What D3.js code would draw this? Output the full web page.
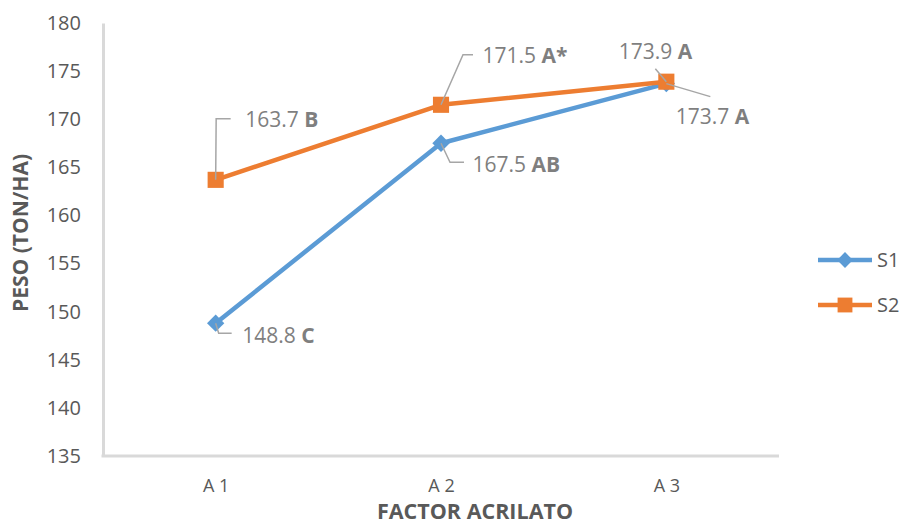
<!DOCTYPE html>
<html>
<head>
<meta charset="utf-8">
<script src="https://cdn.jsdelivr.net/npm/d3@7/dist/d3.min.js"></script>
<style>
  html, body { margin: 0; padding: 0; background: #fff; }
  svg { display: block; font-family: "Open Sans", sans-serif; }
</style>
</head>
<body>
<svg id="chart" width="900" height="526"></svg>
<script>
// ---- data ----
const categories = ["A 1", "A 2", "A 3"];
const seriesNames = ["S1", "S2"];
const s1Values = [148.8, 167.5, 173.7];
const s2Values = [163.7, 171.5, 173.9];
const s1Letters = ["C", "AB", "A"];
const s2Letters = ["B", "A*", "A"];
const yTicks = [135, 140, 145, 150, 155, 160, 165, 170, 175, 180];

// ---- layout (positions/styles) ----
const W = 900, H = 526;
const plot = { left: 103, right: 779, top: 23, bottom: 456 };
const colors = { S1: "#5b9bd5", S2: "#ed7d31" };
// label offsets relative to the point: text start (dx, dy centre), leader polyline
const labelLayout = {
  S1: [
    { dx: 26.5, dy: 12, leader: [[0, 0], [3, 10], [16, 10]] },
    { dx: 31.5, dy: 21, leader: [[0, 0], [9, 19], [23, 19]] },
    { dx: 9.5, dy: 33.5, leader: [[0, 0], [44, 13]] }
  ],
  S2: [
    { dx: 29.5, dy: -60, leader: [[0, 0], [0.5, -61], [15, -61]] },
    { dx: 41.5, dy: -49, leader: [[0, 0], [22, -50], [32, -50]] },
    { dx: -47.5, dy: -30, leader: [[0, 0], [-11, -13]] }
  ]
};

const svg = d3.select("#chart");

const x = d3.scalePoint().domain(categories).range([plot.left, plot.right]).padding(0.5);
const y = d3.scaleLinear().domain([135, 180]).range([plot.bottom, plot.top]);

// axes
const yAxis = svg.append("g")
  .attr("transform", `translate(${plot.left},0)`)
  .call(d3.axisLeft(y).tickValues(yTicks).tickSize(0).tickSizeOuter(0).tickPadding(22));
yAxis.select(".domain").attr("stroke", "#d9d9d9").attr("stroke-width", 3);
yAxis.selectAll("text").attr("fill", "#595959").style("font-size", "20px").style("font-family", "'Open Sans', sans-serif");

const xAxis = svg.append("g")
  .attr("transform", `translate(0,${plot.bottom})`)
  .call(d3.axisBottom(x).tickSize(0).tickSizeOuter(0).tickPadding(23));
xAxis.select(".domain").attr("stroke", "#d9d9d9").attr("stroke-width", 3)
  .attr("d", `M${plot.left - 1.5},0H${plot.right}`);
xAxis.selectAll("text").attr("fill", "#595959").style("font-size", "18px").style("font-family", "'Open Sans', sans-serif");

// axis titles
svg.append("text")
  .attr("transform", `translate(28,233) rotate(-90)`)
  .attr("text-anchor", "middle")
  .attr("fill", "#595959")
  .style("font-size", "21px").style("font-weight", "bold")
  .text("PESO (TON/HA)");
svg.append("text")
  .attr("x", 475).attr("y", 519)
  .attr("text-anchor", "middle")
  .attr("fill", "#595959")
  .style("font-size", "21.5px").style("font-weight", "bold")
  .text("FACTOR ACRILATO");

// series
const series = [
  { name: "S1", values: s1Values, letters: s1Letters, shape: d3.symbolSquare, rot: 45, size: 150, lsize: 125 },
  { name: "S2", values: s2Values, letters: s2Letters, shape: d3.symbolSquare, rot: 0, size: 260, lsize: 220 }
];

const line = d3.line().x((d, i) => x(categories[i])).y(d => y(d));

series.forEach(s => {
  const g = svg.append("g");
  g.append("path")
    .datum(s.values)
    .attr("d", line)
    .attr("fill", "none")
    .attr("stroke", colors[s.name])
    .attr("stroke-width", 4.5)
    .attr("stroke-linejoin", "round");
  g.selectAll("path.m")
    .data(s.values)
    .join("path")
    .attr("class", "m")
    .attr("transform", (d, i) => `translate(${x(categories[i])},${y(d)}) rotate(${s.rot})`)
    .attr("d", d3.symbol().type(s.shape).size(s.size))
    .attr("fill", colors[s.name]);
});

// leader lines and labels
series.forEach(s => {
  s.values.forEach((v, i) => {
    const px = x(categories[i]), py = y(v);
    const L = labelLayout[s.name][i];
    svg.append("path")
      .attr("d", d3.line()(L.leader.map(p => [px + p[0], py + p[1]])))
      .attr("fill", "none")
      .attr("stroke", "#a6a6a6")
      .attr("stroke-width", 1.5);
    const t = svg.append("text")
      .attr("x", px + L.dx).attr("y", py + L.dy)
      .attr("dy", "0.35em")
      .attr("fill", "#7f7f7f")
      .style("font-size", "21px");
    t.append("tspan").text(v.toFixed(1) + " ");
    t.append("tspan").style("font-weight", "bold").text(s.letters[i]);
  });
});

// legend
const legend = svg.append("g");
series.forEach((s, i) => {
  const ly = 260 + i * 45;
  legend.append("line")
    .attr("x1", 818).attr("x2", 872).attr("y1", ly).attr("y2", ly)
    .attr("stroke", colors[s.name]).attr("stroke-width", 4.5);
  legend.append("path")
    .attr("transform", `translate(845,${ly}) rotate(${s.rot})`)
    .attr("d", d3.symbol().type(s.shape).size(s.lsize))
    .attr("fill", colors[s.name]);
  legend.append("text")
    .attr("x", 877).attr("y", ly).attr("dy", "0.35em")
    .attr("fill", "#595959")
    .style("font-size", "20px")
    .text(s.name);
});
</script>
</body>
</html>
